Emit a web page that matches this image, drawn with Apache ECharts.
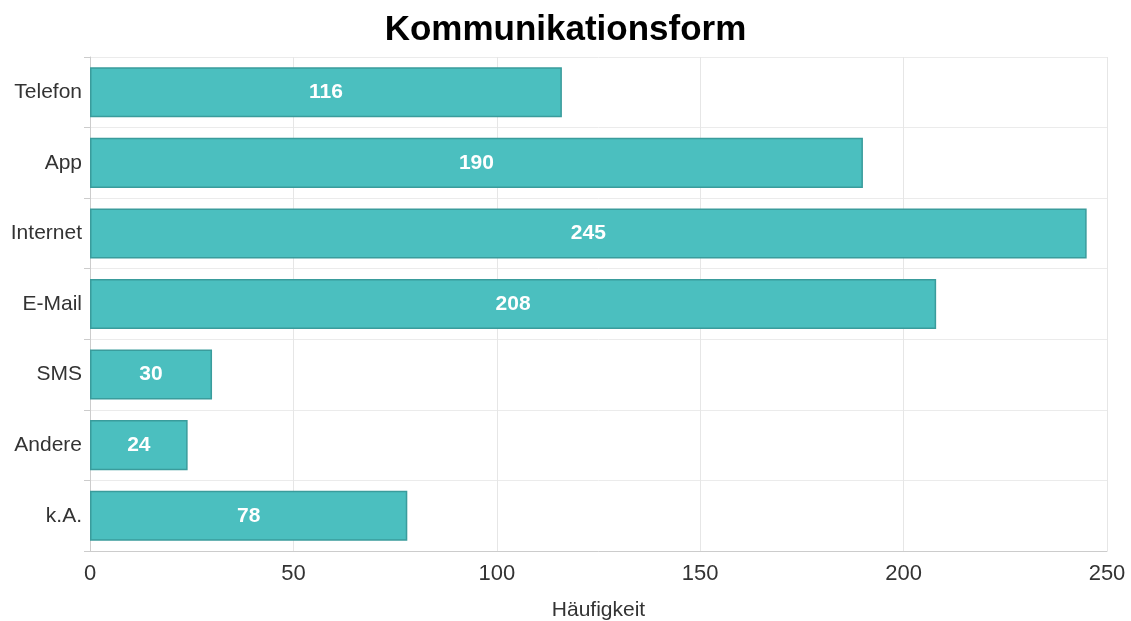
<!DOCTYPE html>
<html><head><meta charset="utf-8">
<script src="https://cdn.jsdelivr.net/npm/echarts@6/dist/echarts.min.js"></script>
<style>html,body{margin:0;padding:0;background:#fff}#c{width:1131px;height:621px}</style>
</head><body><div id="c"></div>
<script>
const categories = ["Telefon","App","Internet","E-Mail","SMS","Andere","k.A."];
const values = [116,190,245,208,30,24,78];
const xTicks = [0,50,100,150,200,250];
const chart = echarts.init(document.getElementById('c'));
chart.setOption({
  animation:false,
  title:{text:"Kommunikationsform",left:'center',top:8,textStyle:{fontFamily:"Liberation Sans",fontSize:35,fontWeight:'bold',color:'#000'}},
  grid:{left:90,right:24,top:57,bottom:70,containLabel:false,outerBoundsMode:'none'},
  xAxis:{type:'value',min:xTicks[0],max:xTicks[xTicks.length-1],interval:50,
    name:"Häufigkeit",nameLocation:'middle',nameGap:49,
    nameTextStyle:{fontFamily:"Liberation Sans",fontSize:21,color:'#333'},
    axisLine:{show:true,lineStyle:{color:'#ccc'}},
    axisTick:{show:false},
    axisLabel:{fontFamily:"Liberation Sans",fontSize:22,color:'#333',margin:12},
    splitLine:{show:true,lineStyle:{color:'#e6e6e6'}}},
  yAxis:{type:'category',data:categories,inverse:true,
    axisLine:{show:true,lineStyle:{color:'#ccc'}},
    axisTick:{show:true,length:6,lineStyle:{color:'#ccc'}},
    axisLabel:{fontFamily:"Liberation Sans",fontSize:21,color:'#333',margin:8},
    splitLine:{show:true,lineStyle:{color:'#ebebeb'}}},
  series:[{type:'bar',data:values,barWidth:'71%',
    itemStyle:{color:'#4bbfbf',borderColor:'#3a9c9c',borderWidth:1.5},
    label:{show:true,position:'inside',color:'#fff',fontFamily:"Liberation Sans",fontWeight:'bold',fontSize:21}}]
});
</script></body></html>
